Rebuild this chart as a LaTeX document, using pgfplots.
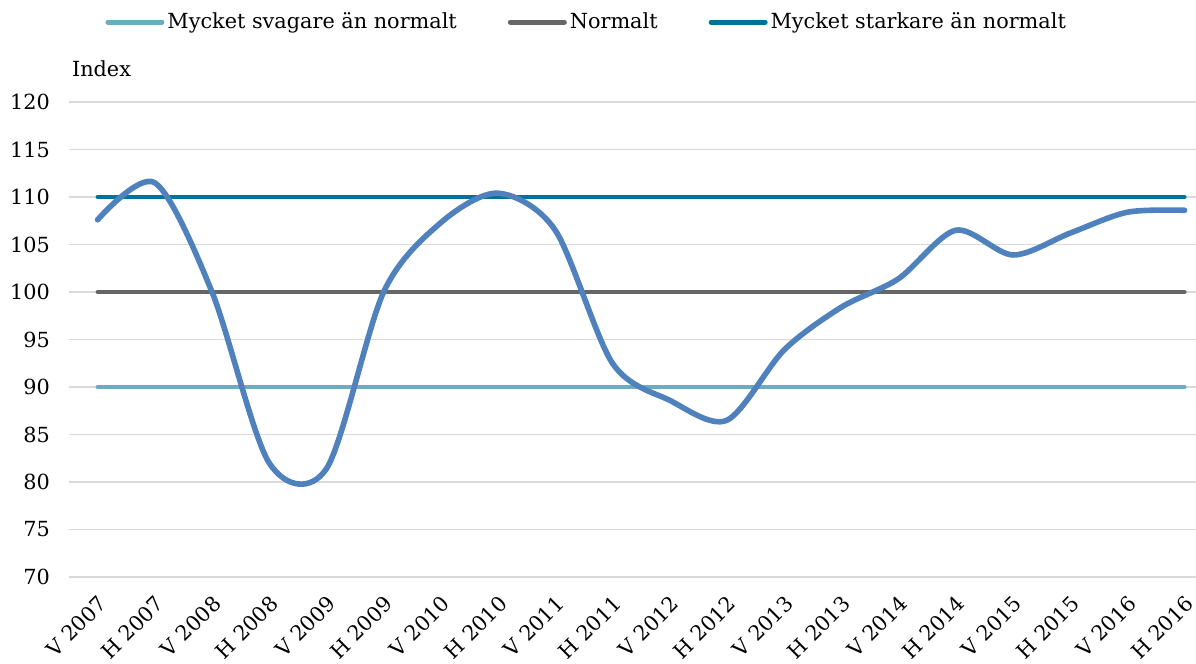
\documentclass[border=0pt]{standalone}
\usepackage{fontspec}
\setmainfont{DejaVu Serif}
\usepackage{pgfplots}
\usepackage{pgfplotstable}
\pgfplotsset{compat=1.18}
\definecolor{weakline}{RGB}{106,172,192}
\definecolor{normline}{RGB}{102,102,102}
\definecolor{strongline}{RGB}{0,116,150}
\definecolor{indexblue}{RGB}{79,129,189}
\definecolor{gridgrey}{RGB}{217,217,217}

% index, V = vår, H = höst
\pgfplotstableread{
x y
0 107.6
1 111.5
2 100.0
3 82.0
4 81.4
5 100.0
6 107.3
7 110.4
8 106.5
9 92.5
10 88.6
11 86.5
12 93.9
13 98.4
14 101.4
15 106.5
16 103.9
17 106.2
18 108.4
19 108.6
}\indexdata

\begin{document}
\begin{tikzpicture}[font=\fontsize{10.4}{12}\selectfont]
\begin{axis}[
  scale only axis,
  width=563.5pt, height=237.5pt,
  xmin=-0.5, xmax=19.2,
  ymin=70, ymax=120,
  ytick={70,75,...,120},
  xtick={0,...,19},
  xticklabels={V 2007,H 2007,V 2008,H 2008,V 2009,H 2009,V 2010,H 2010,V 2011,H 2011,
               V 2012,H 2012,V 2013,H 2013,V 2014,H 2014,V 2015,H 2015,V 2016,H 2016},
  axis line style={draw=none},
  major tick length=0pt,
  ymajorgrids,
  grid style={gridgrey, line width=0.75pt},
  /pgf/number format/assume math mode=true,
  yticklabel style={xshift=-6pt},
  % shifts are in the rotated frame
  xticklabel style={rotate=45, anchor=east, xshift=-2.8pt, yshift=-9.9pt},
  clip=false,
  legend columns=3,
  legend style={draw=none, fill=none, at={(0.032,1)}, anchor=west, yshift=40pt,
    inner sep=0pt, nodes={inner xsep=1.5pt},
    /tikz/every even column/.append style={column sep=24pt}},
  legend image code/.code={\draw[#1, line width=2.5pt, line cap=round] (0pt,0pt) -- (27pt,0pt);},
]
\addplot[weakline, line width=2pt, line cap=round] coordinates {(0,90) (19,90)};
\addlegendentry{Mycket svagare än normalt}
\addplot[normline, line width=2pt, line cap=round] coordinates {(0,100) (19,100)};
\addlegendentry{Normalt}
\addplot[strongline, line width=2pt, line cap=round] coordinates {(0,110) (19,110)};
\addlegendentry{Mycket starkare än normalt}

\addplot[indexblue, line width=2.8pt, line cap=round, smooth, tension=0.5, forget plot]
  table[x=x, y=y] {\indexdata};

\node[anchor=base west] at ([xshift=-2pt, yshift=13pt]rel axis cs:0,1) {Index};
\end{axis}
\pgfresetboundingbox
\path ([xshift=-34.5pt, yshift=-43pt]current axis.south west)
  rectangle ([yshift=51pt]current axis.north east);
\end{tikzpicture}
\end{document}
